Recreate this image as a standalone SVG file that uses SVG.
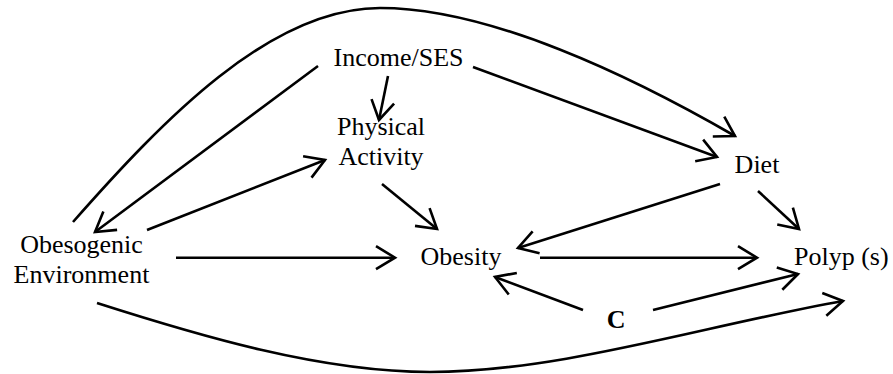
<svg xmlns="http://www.w3.org/2000/svg" width="893" height="374" viewBox="0 0 893 374">
<defs>
<style>
.lbl{font-family:"Liberation Serif","Times New Roman",serif;font-size:26px;fill:#000}
.b{font-weight:bold}
.e{fill:none;stroke:#000;stroke-width:2.6;marker-end:url(#ah)}
</style>
<marker id="ah" viewBox="-23 -15 26 30" refX="0" refY="0" markerWidth="26" markerHeight="30" markerUnits="userSpaceOnUse" orient="auto" overflow="visible">
<path d="M-19,-11.5 L0,0 L-19,11.5" fill="none" stroke="#000" stroke-width="2.6" stroke-linejoin="miter"/>
</marker>
</defs>
<rect width="893" height="374" fill="#fff"/>
<g id="connectors">
<path class="e" d="M73,222 C163,120 270,8 380,8 C490,8 631,76 735,136"/>
<path class="e" d="M318,66 L95,232"/>
<path class="e" d="M147,230 L325,160"/>
<path class="e" d="M388,76 L379,120"/>
<path class="e" d="M382,184 L437,229"/>
<path class="e" d="M473,67 L717,157"/>
<path class="e" d="M720,184 L518,248"/>
<path class="e" d="M758,191 L799,229"/>
<path class="e" d="M540,257.7 L757,257.7"/>
<path class="e" d="M583,310 L495,277"/>
<path class="e" d="M653,310 L798,274"/>
<path class="e" d="M176,257.7 L395,257.7"/>
<path class="e" d="M97,303 C197,335 320,372 430,372 C560,372 703,326 843,301"/>
</g>
<g id="income"><text class="lbl" x="398.5" y="66" text-anchor="middle">Income/SES</text></g>
<g id="physical"><text class="lbl" x="381" y="135" text-anchor="middle">Physical</text><text class="lbl" x="381" y="165" text-anchor="middle">Activity</text></g>
<g id="obesogenic"><text class="lbl" x="81.5" y="253" text-anchor="middle">Obesogenic</text><text class="lbl" x="81.5" y="283" text-anchor="middle">Environment</text></g>
<g id="obesity"><text class="lbl" x="461" y="265" text-anchor="middle">Obesity</text></g>
<g id="diet"><text class="lbl" x="757" y="173" text-anchor="middle">Diet</text></g>
<g id="polyp"><text class="lbl" x="794" y="265">Polyp (s)</text></g>
<g id="c"><text class="lbl b" x="606.7" y="328">C</text></g>
</svg>
